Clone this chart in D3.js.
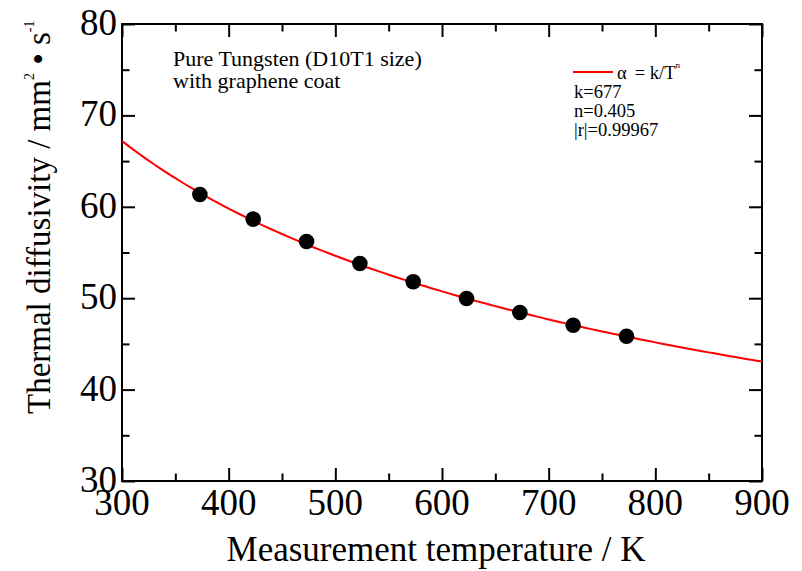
<!DOCTYPE html>
<html>
<head>
<meta charset="utf-8">
<script src="https://cdn.jsdelivr.net/npm/d3@7/dist/d3.min.js"></script>
<style>
  html, body { margin: 0; padding: 0; background: #fff; }
  svg { display: block; font-family: "Liberation Serif", "Times New Roman", serif; }
</style>
</head>
<body>
<svg id="chart" width="802" height="571"></svg>
<script>
// Measured thermal diffusivity of pure tungsten with graphene coat
const temperatures = [373, 423, 473, 523, 573, 623, 673, 723, 773];
const diffusivity  = [61.35, 58.65, 56.2, 53.8, 51.8, 49.96, 48.43, 47.04, 45.84];

// Power-law fit  alpha = k / T^n
const fitK = 677;
const fitN = 0.405;
const fitR = 0.99967;

const xTicks = [300, 400, 500, 600, 700, 800, 900];
const yTicks = [30, 40, 50, 60, 70, 80];

const svg = d3.select("#chart");
const plotL = 122, plotR = 762, plotT = 24, plotB = 481;

const x = d3.scaleLinear().domain([300, 900]).range([plotL, plotR]);
const y = d3.scaleLinear().domain([30, 80]).range([plotB, plotT]);

const majorLen = 13, minorLen = 7.5;
const xMinor = d3.range(350, 900, 100);
const yMinor = d3.range(35, 80, 10);

function tickAxis(axisFn, scale, major, minor, tx, ty) {
  const gMaj = svg.append("g").attr("transform", `translate(${tx},${ty})`)
    .call(axisFn(scale).tickValues(major).tickSizeInner(majorLen).tickSizeOuter(0).tickFormat(""));
  const gMin = svg.append("g").attr("transform", `translate(${tx},${ty})`)
    .call(axisFn(scale).tickValues(minor).tickSizeInner(minorLen).tickSizeOuter(0).tickFormat(""));
  [gMaj, gMin].forEach(g => {
    g.select(".domain").remove();
    g.selectAll("line").attr("stroke", "#000").attr("stroke-width", 2);
  });
}

// inward ticks on all four sides
tickAxis(d3.axisTop, x, xTicks, xMinor, 0, plotB);
tickAxis(d3.axisBottom, x, xTicks, xMinor, 0, plotT);
tickAxis(d3.axisRight, y, yTicks, yMinor, plotL, 0);
tickAxis(d3.axisLeft, y, yTicks, yMinor, plotR, 0);

// frame
svg.append("rect")
  .attr("x", plotL).attr("y", plotT)
  .attr("width", plotR - plotL).attr("height", plotB - plotT)
  .attr("fill", "none").attr("stroke", "#000").attr("stroke-width", 2);

// tick labels
svg.append("g").selectAll("text").data(xTicks).join("text")
  .attr("x", d => x(d)).attr("y", plotB + 34)
  .attr("text-anchor", "middle")
  .attr("font-size", 37)
  .text(d => d);

svg.append("g").selectAll("text").data(yTicks).join("text")
  .attr("x", plotL - 5).attr("y", d => y(d) + 11)
  .attr("text-anchor", "end")
  .attr("font-size", 37)
  .text(d => d);

// axis titles
svg.append("text")
  .attr("x", (plotL + plotR) / 2 - 6).attr("y", 561)
  .attr("text-anchor", "middle")
  .attr("font-size", 35)
  .text("Measurement temperature / K");

const yTitle = svg.append("text")
  .attr("transform", "translate(50,414) rotate(-90)")
  .attr("font-size", 33);
yTitle.append("tspan").text("Thermal diffusivity / mm");
yTitle.append("tspan").attr("font-size", 14).attr("dy", -16).text("2");
yTitle.append("tspan").attr("dy", 16).text(" \u2022 s");
yTitle.append("tspan").attr("font-size", 14).attr("dy", -16).text("-1");

// fitted curve
const curveT = d3.range(300, 901, 5);
const line = d3.line()
  .x(d => x(d))
  .y(d => y(fitK / Math.pow(d, fitN)));
svg.append("path")
  .datum(curveT)
  .attr("d", line)
  .attr("fill", "none")
  .attr("stroke", "#ff0000")
  .attr("stroke-width", 2);

// measured points
svg.append("g").selectAll("circle").data(temperatures).join("circle")
  .attr("cx", d => x(d))
  .attr("cy", (d, i) => y(diffusivity[i]))
  .attr("r", 7.8)
  .attr("fill", "#000");

// sample annotation
const note = svg.append("text").attr("font-size", 22);
note.append("tspan").attr("x", 173).attr("y", 66).text("Pure Tungsten (D10T1 size)");
note.append("tspan").attr("x", 173).attr("y", 88).text("with graphene coat");

// legend
svg.append("line")
  .attr("x1", 573).attr("x2", 613).attr("y1", 72).attr("y2", 72)
  .attr("stroke", "#ff0000").attr("stroke-width", 2);
const leg = svg.append("text").attr("font-size", 18.5);
leg.append("tspan").attr("x", 617).attr("y", 79).text("\u03b1");
leg.append("tspan").attr("dx", 8).text("= k/T");
leg.append("tspan").attr("font-size", 9).attr("dy", -11).text("n");

const stats = [`k=${fitK}`, `n=${fitN}`, `|r|=${fitR}`];
svg.append("g").selectAll("text").data(stats).join("text")
  .attr("x", 574).attr("y", (d, i) => 98 + i * 19)
  .attr("font-size", 18.5)
  .text(d => d);
</script>
</body>
</html>
